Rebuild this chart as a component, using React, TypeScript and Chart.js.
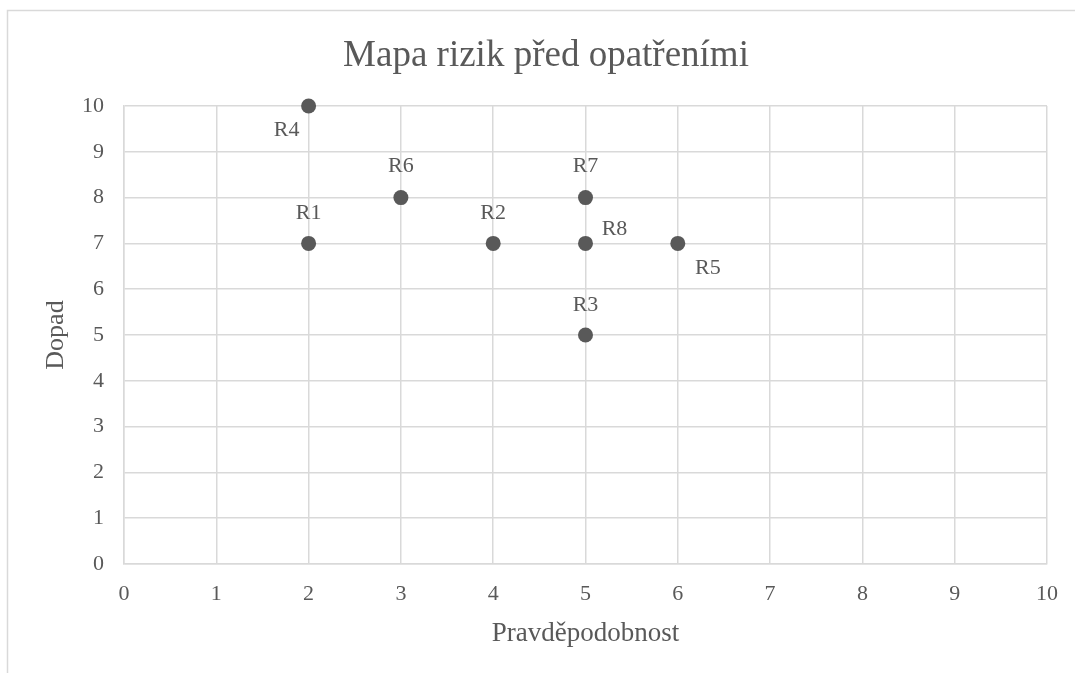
import React, { useEffect, useRef } from "react";
import { Chart, registerables } from "chart.js";

Chart.register(...registerables);

const riskNames = ["R1", "R2", "R3", "R4", "R5", "R6", "R7", "R8"];
const probability = [2, 4, 5, 2, 6, 3, 5, 5];
const impact = [7, 7, 5, 10, 7, 8, 8, 7];
const axisTicks = [0, 1, 2, 3, 4, 5, 6, 7, 8, 9, 10];

const chartTitle = "Mapa rizik před opatřeními";
const xTitle = "Pravděpodobnost";
const yTitle = "Dopad";

// label placement relative to each point (styling)
const labelOffsets: Record<string, [number, number]> = {
  R1: [0, -30],
  R2: [0, -30],
  R3: [0, -30],
  R4: [-22, 24],
  R5: [30, 25],
  R6: [0, -31],
  R7: [0, -31],
  R8: [29, -14],
};

const FONT = '"Liberation Serif", "Times New Roman", serif';
const TEXT = "#595959";
const GRID = "#d9d9d9";

const frame = {
  id: "frame",
  beforeDraw(chart: any) {
    const ctx = chart.ctx;
    ctx.save();
    ctx.fillStyle = "#ffffff";
    ctx.fillRect(0, 0, chart.width, chart.height);
    ctx.strokeStyle = GRID;
    ctx.lineWidth = 1.5;
    ctx.strokeRect(7.5, 10.5, chart.width + 20, chart.height + 20);
    ctx.font = `37px ${FONT}`;
    ctx.fillStyle = TEXT;
    ctx.textAlign = "center";
    ctx.textBaseline = "middle";
    ctx.fillText(chartTitle, 546, 56);
    ctx.restore();
  },
};

const pointLabels = {
  id: "pointLabels",
  afterDatasetsDraw(chart: any) {
    const ctx = chart.ctx;
    const meta = chart.getDatasetMeta(0);
    ctx.save();
    ctx.font = `22px ${FONT}`;
    ctx.fillStyle = TEXT;
    ctx.textAlign = "center";
    ctx.textBaseline = "middle";
    meta.data.forEach((el: any, i: number) => {
      const name = riskNames[i];
      const [dx, dy] = labelOffsets[name] || [0, -30];
      ctx.fillText(name, el.x + dx, el.y + dy);
    });
    ctx.restore();
  },
};

export default function App() {
  const ref = useRef<HTMLCanvasElement | null>(null);
  useEffect(() => {
    document.body.style.margin = "0";
    const canvas = ref.current;
    if (!canvas) return;
    const chart = new Chart(canvas, {
      type: "scatter",
      data: {
        datasets: [
          {
            label: "Rizika",
            data: probability.map((x, i) => ({ x, y: impact[i] })),
            backgroundColor: TEXT,
            borderColor: TEXT,
            borderWidth: 0,
            pointRadius: 7.5,
            pointHoverRadius: 7.5,
            clip: false,
          },
        ],
      },
      options: {
        animation: false,
        responsive: false,
        devicePixelRatio: 1,
        layout: { padding: { left: 0, right: 27, top: 106, bottom: 0 } },
        plugins: {
          legend: { display: false },
          tooltip: { enabled: false },
          title: { display: false },
        },
        scales: {
          x: {
            type: "linear",
            min: 0,
            max: 10,
            afterBuildTicks: (s: any) => {
              s.ticks = axisTicks.map((v) => ({ value: v }));
            },
            afterFit: (s: any) => {
              s.height = 109;
            },
            grid: { color: GRID, lineWidth: 1.5, drawTicks: false },
            border: { color: GRID, width: 1.5 },
            ticks: {
              color: TEXT,
              font: { family: FONT, size: 22 },
              padding: 17,
              maxRotation: 0,
            },
            title: {
              display: true,
              text: xTitle,
              color: TEXT,
              font: { family: FONT, size: 27 },
              padding: { top: 0, bottom: 23 },
            },
          },
          y: {
            type: "linear",
            min: 0,
            max: 10,
            afterBuildTicks: (s: any) => {
              s.ticks = axisTicks.map((v) => ({ value: v }));
            },
            afterFit: (s: any) => {
              s.width = 124;
            },
            grid: { color: GRID, lineWidth: 1.5, drawTicks: false },
            border: { color: GRID, width: 1.5 },
            ticks: {
              color: TEXT,
              font: { family: FONT, size: 22 },
              padding: 20,
            },
            title: {
              display: true,
              text: yTitle,
              color: TEXT,
              font: { family: FONT, size: 26 },
              padding: { top: 41, bottom: 0 },
            },
          },
        },
      },
      plugins: [frame, pointLabels],
    });
    return () => chart.destroy();
  }, []);
  return <canvas ref={ref} width={1075} height={673} style={{ display: "block" }} />;
}
